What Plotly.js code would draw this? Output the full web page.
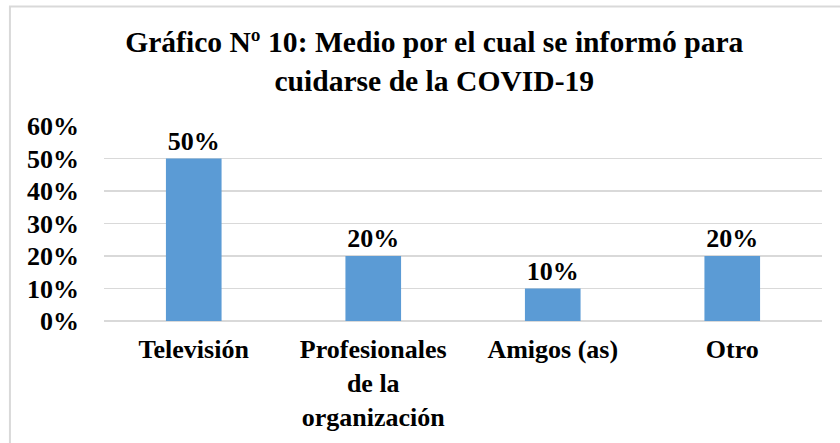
<!DOCTYPE html>
<html>
<head>
<meta charset="utf-8">
<script src="https://cdn.plot.ly/plotly-3.0.1.min.js"></script>
<style>html,body{margin:0;padding:0;background:#fff}#chart{width:840px;height:443px}</style>
</head>
<body>
<div id="chart"></div>
<script>
const categories = ["Televisión", "Profesionales<br>de la<br>organización", "Amigos (as)", "Otro"];
const values = [0.50, 0.20, 0.10, 0.20];
const valueLabels = ["50%", "20%", "10%", "20%"];
const yTickValues = [0, 0.1, 0.2, 0.3, 0.4, 0.5, 0.6];
const yTickLabels = ["0%", "10%", "20%", "30%", "40%", "50%", "60%"];
const titleText = "Gráfico Nº 10: Medio por el cual se informó para<br>cuidarse de la COVID-19";

const font = "'Liberation Serif', 'Times New Roman', serif";

const trace = {
  type: "bar",
  x: categories,
  y: values,
  text: valueLabels,
  textposition: "outside",
  cliponaxis: false,
  textfont: {family: font, size: 26, color: "#000", weight: "bold"},
  marker: {color: "#5B9BD5"},
  hoverinfo: "none"
};

const layout = {
  width: 840, height: 443,
  paper_bgcolor: "#fff", plot_bgcolor: "#fff",
  margin: {l: 104, r: 18, t: 126, b: 122, pad: 0},
  bargap: 0.69,
  showlegend: false,
  font: {family: font, color: "#000"},
  title: {
    text: "<b>" + titleText + "</b>",
    font: {family: font, size: 29.6, color: "#000"},
    x: 0.517, xref: "container", xanchor: "center",
    y: 0.882, yref: "container", yanchor: "top"
  },
  xaxis: {
    type: "category",
    showgrid: false, zeroline: false, showline: false, ticks: "",
    tickfont: {family: font, size: 26, color: "#000", weight: "bold"},
    ticklabelstandoff: 10
  },
  yaxis: {
    range: [0, 0.6],
    tickvals: yTickValues, ticktext: yTickLabels,
    showgrid: true, gridcolor: "#d9d9d9", gridwidth: 1.3,
    zeroline: true, zerolinecolor: "#d9d9d9", zerolinewidth: 1.3,
    showline: false, ticks: "",
    tickfont: {family: font, size: 26, color: "#000", weight: "bold"},
    ticklabelstandoff: 24
  },
  shapes: [
    {type: "rect", xref: "paper", yref: "paper", x0: -0.131, x1: 1.2, y0: -1, y1: 1.613,
     line: {color: "#d9d9d9", width: 2}, fillcolor: "rgba(0,0,0,0)", layer: "below"}
  ]
};

Plotly.newPlot("chart", [trace], layout, {displayModeBar: false, staticPlot: true});
</script>
</body>
</html>
